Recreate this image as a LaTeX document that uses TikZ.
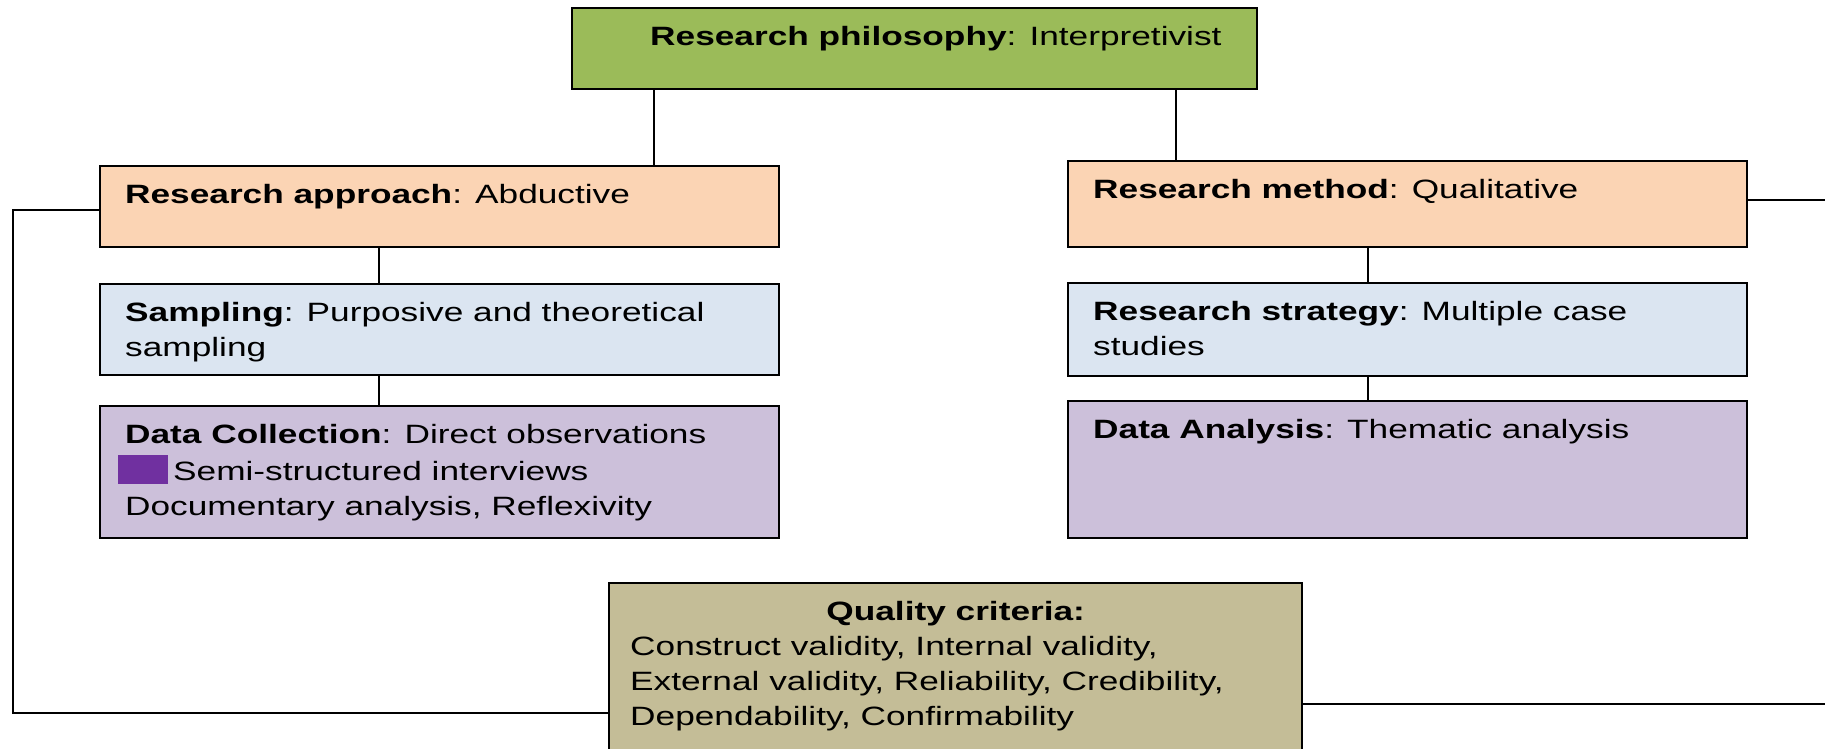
\documentclass[tikz,border=0pt]{standalone}
\usepackage{fontspec}
\setmainfont[FakeStretch=1.33]{Liberation Sans}
\usetikzlibrary{calc}
\definecolor{cgreen}{HTML}{9BBB59}
\definecolor{cpeach}{HTML}{FBD4B4}
\definecolor{cblue}{HTML}{DBE5F1}
\definecolor{cpurple}{HTML}{CCC0DA}
\definecolor{ctan}{HTML}{C4BD97}
\definecolor{csq}{HTML}{7030A0}
\newcommand\fsz{\fontsize{26.5pt}{35pt}\selectfont}
\newcommand\cellbody[3]{\parbox[c][#1][t]{#2}{\raggedright\strut #3}}
\tikzset{
  cell/.style={draw=black, line width=2.4pt, anchor=north west, inner xsep=25pt, inner ysep=12.5pt, font=\fsz},
  wire/.style={draw=black, line width=2pt},
}
\begin{document}
\begin{tikzpicture}[x=1pt,y=-1pt]
\useasboundingbox (0,0) rectangle (1825,749);
\clip (0,0) rectangle (1825,749);
\fill[white] (0,0) rectangle (1825,749);

\node[cell, fill=cgreen] (philo) at (571,7)
  {\cellbody{56pt}{635pt}{\hspace*{53pt}\textbf{Research philosophy}: Interpretivist}};

\node[cell, fill=cpeach] (approach) at (99,165)
  {\cellbody{56pt}{629pt}{\textbf{Research approach}: Abductive}};
\node[cell, fill=cblue] (sampling) at (99,283)
  {\cellbody{66pt}{629pt}{\textbf{Sampling}: Purposive and theoretical\\sampling}};
\node[cell, fill=cpurple] (datacoll) at (99,405)
  {\cellbody{107pt}{629pt}{\textbf{Data Collection}: Direct observations\\
   \hspace*{-7pt}{\color{csq}\rule[-3pt]{50pt}{29pt}}\hspace{5pt}Semi-structured interviews\\
   Documentary analysis, Reflexivity}};

\node[cell, fill=cpeach] (method) at (1067,160)
  {\cellbody{61pt}{629pt}{\textbf{Research method}: Qualitative}};
\node[cell, fill=cblue] (strategy) at (1067,282)
  {\cellbody{68pt}{629pt}{\textbf{Research strategy}: Multiple case\\studies}};
\node[cell, fill=cpurple] (analysis) at (1067,400)
  {\cellbody{112pt}{629pt}{\textbf{Data Analysis}: Thematic analysis}};

\node[cell, fill=ctan, inner xsep=21pt] (qual) at (608,582)
  {\parbox[c][163pt][t]{651pt}{\strut\hfill\textbf{Quality criteria:}\hfill\strut\par
   \raggedright Construct validity, Internal validity,\\
   External validity, Reliability, Credibility,\\
   Dependability, Confirmability}};

\coordinate (xL) at (654,0);
\coordinate (xR) at (1176,0);
\coordinate (xA) at (379,0);
\coordinate (xM) at (1368,0);
\coordinate (loopL) at (13,713);
\coordinate (loopR) at (1840,704);

\draw[wire] (philo.south -| xL) -- (approach.north -| xL);
\draw[wire] (philo.south -| xR) -- (method.north -| xR);
\draw[wire] (approach.south -| xA) -- (sampling.north -| xA);
\draw[wire] (sampling.south -| xA) -- (datacoll.north -| xA);
\draw[wire] (method.south -| xM) -- (strategy.north -| xM);
\draw[wire] (strategy.south -| xM) -- (analysis.north -| xM);
\draw[wire] ([yshift=-3.5pt]approach.west) -| (loopL) -- (loopL -| qual.west);
\draw[wire] ([yshift=4pt]method.east) -| (loopR) -- (loopR -| qual.east);
\end{tikzpicture}
\end{document}
